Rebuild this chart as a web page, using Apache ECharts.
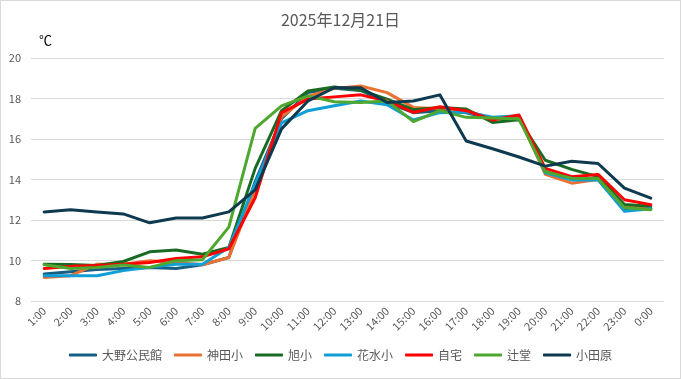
<!DOCTYPE html>
<html>
<head>
<meta charset="utf-8">
<script src="https://cdn.jsdelivr.net/npm/echarts@6/dist/echarts.min.js"></script>
<style>
html,body{margin:0;padding:0;background:#fff;}
#c{position:absolute;left:0;top:0;width:679px;height:377px;border:1px solid #d9d9d9;}
</style>
</head>
<body>
<div id="c"></div>
<script>
const categories = ['1:00','2:00','3:00','4:00','5:00','6:00','7:00','8:00','9:00','10:00','11:00','12:00','13:00','14:00','15:00','16:00','17:00','18:00','19:00','20:00','21:00','22:00','23:00','0:00'];
const seriesNames = ['大野公民館','神田小','旭小','花水小','自宅','辻堂','小田原'];
const oonoKominkan = [9.33,9.45,9.55,9.61,9.66,9.61,9.79,10.15,13.9,17.0,18.3,18.5,18.4,17.8,17.3,17.4,17.3,17.0,17.1,14.4,14.0,14.0,12.5,12.55];
const kandaSho =     [9.16,9.25,9.82,9.82,9.99,9.9,9.79,10.15,13.5,17.1,18.1,18.5,18.62,18.29,17.56,17.5,17.4,17.0,17.1,14.25,13.82,14.0,12.68,12.6];
const asahiSho =     [9.82,9.8,9.75,9.95,10.43,10.52,10.31,10.64,14.55,17.4,18.37,18.57,18.41,17.97,17.45,17.55,17.48,16.82,16.95,14.95,14.5,14.14,12.76,12.68];
const hanamizuSho =  [9.25,9.25,9.25,9.5,9.66,9.82,9.82,10.64,13.8,16.8,17.4,17.64,17.88,17.69,16.94,17.3,17.33,17.07,17.15,14.33,13.98,13.98,12.43,12.55];
const jitaku =       [9.61,9.71,9.75,9.82,9.9,10.1,10.18,10.58,13.1,17.3,17.97,18.08,18.18,17.88,17.31,17.59,17.4,16.94,17.19,14.55,14.14,14.25,13.0,12.76];
const tsujido =      [9.79,9.61,9.66,9.78,9.66,9.99,10.04,11.65,16.53,17.64,18.13,17.84,17.8,17.88,16.86,17.4,17.07,17.04,16.99,14.38,14.06,14.05,12.6,12.51];
const odawara =      [12.4,12.51,12.4,12.3,11.86,12.1,12.1,12.4,13.49,16.5,17.88,18.53,18.53,17.8,17.88,18.18,15.9,15.52,15.11,14.66,14.9,14.79,13.57,13.08];
const yTicks = [8,10,12,14,16,18,20];

const dataList = [oonoKominkan,kandaSho,asahiSho,hanamizuSho,jitaku,tsujido,odawara];
const colors = ['#156082','#E97132','#196B24','#0F9ED5','#FF0000','#4EA72E','#0E3A4F'];
const font = '"Noto Sans CJK JP","Noto Sans",sans-serif';

const chart = echarts.init(document.getElementById('c'), null, {renderer:'canvas'});
chart.setOption({
  animation:false,
  textStyle:{fontFamily:font},
  title:{
    text:'2025年12月21日', left:'center', top:6,
    textStyle:{fontSize:16, fontWeight:'normal', color:'#595959', fontFamily:font}
  },
  graphic:[{type:'text', left:38, top:33, style:{text:'℃', fontSize:13, fill:'#000', fontFamily:font}}],
  legend:{
    data:seriesNames, bottom:12, left:'center', itemWidth:28, itemHeight:3, itemGap:12,
    icon:'roundRect',
    textStyle:{fontSize:12, color:'#595959', fontFamily:font}
  },
  grid:{left:30, right:16, top:57, bottom:77, containLabel:false},
  xAxis:{
    type:'category', data:categories, boundaryGap:true,
    axisLine:{show:false}, axisTick:{show:false},
    axisLabel:{rotate:45, fontSize:11, color:'#595959', interval:0, margin:8, fontFamily:font}
  },
  yAxis:{
    type:'value', min:yTicks[0], max:yTicks[yTicks.length-1], interval:2,
    axisLine:{show:false}, axisTick:{show:false},
    axisLabel:{fontSize:11, color:'#595959', margin:10, fontFamily:font},
    splitLine:{lineStyle:{color:'#d9d9d9', width:1}}
  },
  series: seriesNames.map((n,i)=>({
    name:n, type:'line', data:dataList[i], symbol:'none', smooth:false,
    lineStyle:{width:3, color:colors[i], cap:'round', join:'round'},
    itemStyle:{color:colors[i]}
  }))
});
</script>
</body>
</html>
